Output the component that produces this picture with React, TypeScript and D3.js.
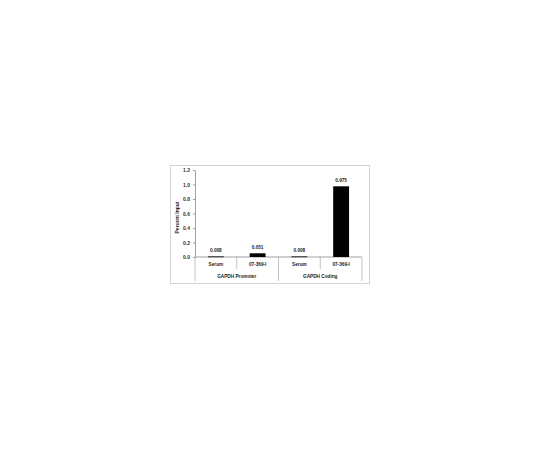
import React, { useEffect, useRef } from 'react';
import * as d3 from 'd3';

const categories = ["Serum", "07-369-I", "Serum", "07-369-I"];
const groups = ["GAPDH Promoter", "GAPDH Coding"];
const values = [0.008, 0.051, 0.008, 0.975];
const valueLabels = ["0.008", "0.051", "0.008", "0.975"];
const yTicks = [0, 0.2, 0.4, 0.6, 0.8, 1.0, 1.2];
const yTitle = "Percent Input";

const App: React.FC = () => {
  const svgRef = useRef<SVGSVGElement>(null);

  useEffect(() => {
    if (!svgRef.current) return;
    const svg = d3.select(svgRef.current);
    svg.selectAll("*").remove();

    const left = 195, right = 362, top = 170, bottom = 257;
    const font = "'Liberation Sans', Arial, sans-serif";
    const fs = 4.7;

    // chart area border
    svg.append("rect")
      .attr("x", 170.5).attr("y", 165.5)
      .attr("width", 199).attr("height", 118)
      .attr("fill", "#fff")
      .attr("stroke", "#d4d4d4")
      .attr("stroke-width", 1);

    const x = d3.scaleBand<number>()
      .domain(categories.map((_, i) => i))
      .range([left, right])
      .padding(0);

    const y = d3.scaleLinear().domain([0, 1.2]).range([bottom, top]);

    // Y axis
    const yAxis = svg.append("g")
      .attr("transform", `translate(${left},0)`)
      .call(d3.axisLeft(y).tickValues(yTicks).tickFormat(d3.format(".1f")).tickSize(2).tickSizeOuter(0));
    yAxis.select(".domain").attr("stroke", "#888").attr("stroke-width", 0.8);
    yAxis.selectAll(".tick line").attr("stroke", "#888").attr("stroke-width", 0.8);
    yAxis.selectAll(".tick text")
      .attr("x", -5)
      .attr("font-family", font)
      .attr("font-size", 5)
      .attr("font-weight", "bold")
      .attr("fill", "#333");

    svg.append("text")
      .attr("transform", `translate(179,${(top + bottom) / 2 + 4}) rotate(-90)`)
      .attr("text-anchor", "middle")
      .attr("font-family", font)
      .attr("font-size", 5)
      .attr("font-weight", "bold")
      .attr("fill", "#222")
      .text(yTitle);

    // baseline
    svg.append("line")
      .attr("x1", left).attr("x2", right)
      .attr("y1", bottom).attr("y2", bottom)
      .attr("stroke", "#888").attr("stroke-width", 0.8);

    // category separators
    const bw = x.bandwidth();
    categories.forEach((_, i) => {
      const xl = x(i)!;
      const groupEdge = i % 2 === 0;
      svg.append("line")
        .attr("x1", xl).attr("x2", xl)
        .attr("y1", bottom).attr("y2", groupEdge ? 281 : 269)
        .attr("stroke", "#999").attr("stroke-width", 0.6);
    });
    svg.append("line")
      .attr("x1", right).attr("x2", right)
      .attr("y1", bottom).attr("y2", 281)
      .attr("stroke", "#999").attr("stroke-width", 0.6);

    // bars
    const barW = bw * 0.38;
    svg.selectAll(".bar")
      .data(values)
      .enter()
      .append("rect")
      .attr("class", "bar")
      .attr("x", (d, i) => x(i)! + (bw - barW) / 2)
      .attr("y", d => y(d))
      .attr("width", barW)
      .attr("height", d => Math.max(0.8, bottom - y(d)))
      .attr("fill", "#000");

    // value labels
    svg.selectAll(".vlabel")
      .data(values)
      .enter()
      .append("text")
      .attr("x", (d, i) => x(i)! + bw / 2)
      .attr("y", d => y(d) - 4)
      .attr("text-anchor", "middle")
      .attr("font-family", font)
      .attr("font-size", fs)
      .attr("font-weight", "bold")
      .attr("fill", "#222")
      .text((d, i) => valueLabels[i]);

    // category labels
    svg.selectAll(".clabel")
      .data(categories)
      .enter()
      .append("text")
      .attr("x", (d, i) => x(i)! + bw / 2)
      .attr("y", 266)
      .attr("text-anchor", "middle")
      .attr("font-family", font)
      .attr("font-size", fs)
      .attr("font-weight", "bold")
      .attr("fill", "#222")
      .text(d => d);

    // group labels
    svg.selectAll(".glabel")
      .data(groups)
      .enter()
      .append("text")
      .attr("x", (d, i) => x(i * 2)! + bw)
      .attr("y", 277.5)
      .attr("text-anchor", "middle")
      .attr("font-family", font)
      .attr("font-size", fs)
      .attr("font-weight", "bold")
      .attr("fill", "#222")
      .text(d => d);
  }, []);

  return (
    <svg
      ref={svgRef}
      width={540}
      height={450}
      style={{ position: "absolute", left: 0, top: 0, background: "#fff" }}
    />
  );
};

export default App;
